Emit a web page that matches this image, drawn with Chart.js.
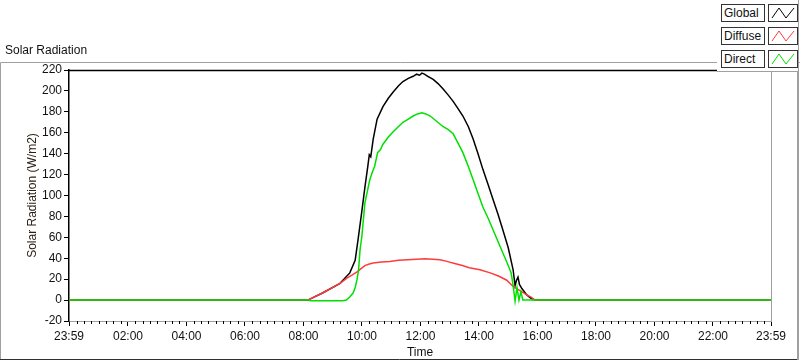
<!DOCTYPE html>
<html>
<head>
<meta charset="utf-8">
<title>Solar Radiation</title>
<script src="https://cdn.jsdelivr.net/npm/chart.js@4/dist/chart.umd.min.js"></script>
<style>
    html, body { margin: 0; padding: 0; background: #fff; }
    #wrap { position: relative; width: 800px; height: 361px; }
    #legend {
        position: absolute; left: 717px; top: 0; width: 81px; height: 71px;
        background: #fff; border-right: 1px solid #a0a0a0; border-bottom: 1px solid #a0a0a0;
        font: 12px "Liberation Sans", Arial, sans-serif; color: #111;
    }
    .item { position: absolute; left: 4px; width: 77px; height: 17px; }
    .lbl {
        position: absolute; left: 0; top: 0; width: 40px; height: 16px;
        border: 1px solid #333; line-height: 16px; padding-left: 2px; background: #fff;
    }
    .sw {
        position: absolute; left: 47px; top: 0; width: 28px; height: 16px;
        border: 1px solid #333; background: #fff;
    }
    .sw svg { display: block; }
</style>
</head>
<body>
<div id="wrap">
    <canvas id="chart" width="800" height="361"></canvas>
    <div id="legend"></div>
</div>
<script>
// x values are minutes after midnight (-1 = 23:59 of the previous day)
const tickTimes = [-1, 120, 240, 360, 480, 600, 720, 840, 960, 1080, 1200, 1320, 1439];
const tickLabels = ['23:59', '02:00', '04:00', '06:00', '08:00', '10:00', '12:00', '14:00', '16:00', '18:00', '20:00', '22:00', '23:59'];

const globalTimes = [-1, 489, 520, 555, 575, 586, 592, 600, 606, 612, 615, 618, 623, 631, 643, 654, 664, 675, 684, 695, 705, 712, 718, 723, 728, 735, 746, 756, 766, 777, 787, 797, 807, 818, 828, 838, 848, 859, 869, 879, 889, 900, 910, 914, 917, 920, 923, 928, 938, 946, 955, 1439];
const globalValues = [0, 0, 7, 16, 26, 38, 58, 86, 108, 128, 139, 137, 154, 173, 185, 193, 199, 205, 209, 212, 214, 216, 215, 217, 216, 214, 211, 207, 202, 196, 190, 183, 176, 166, 154, 140, 125, 110, 96, 82, 67, 50, 29, 14, 19, 22, 15, 11, 5, 2, 0, 0];

const diffuseTimes = [-1, 489, 520, 555, 569, 580, 590, 598, 606, 615, 623, 640, 657, 675, 694, 712, 729, 745, 760, 774, 790, 806, 820, 842, 863, 880, 897, 910, 924, 938, 946, 955, 1439];
const diffuseValues = [0, 0, 7, 16, 21, 24, 27, 30, 33, 34.5, 35.5, 36.5, 37, 38, 38.5, 39, 39.5, 39, 38.5, 37, 35, 33, 31, 29, 26, 23, 19, 13, 9, 5, 3, 0, 0];

const directTimes = [-1, 489, 495, 560, 568, 575, 582, 586, 590, 593, 596, 600, 606, 611, 616, 621, 626, 632, 638, 643, 654, 664, 675, 684, 695, 705, 714, 723, 731, 740, 753, 766, 777, 787, 797, 807, 818, 828, 838, 848, 859, 869, 879, 889, 900, 906, 910, 914, 918, 922, 926, 930, 934, 955, 1439];
const directValues = [0, 0, -0.7, -0.7, 0, 3, 7, 12, 20, 29, 48, 62, 93, 104, 115, 122, 128, 141, 144, 149, 156, 161, 166, 170, 173, 176, 178, 179, 178, 176, 171, 166, 163, 159, 150, 141, 128, 115, 102, 89, 78, 67, 56, 45, 33, 26, 14, -1, 12, 0, 8, 0, 0, 0, 0];

const toPoints = (xs, ys) => xs.map((x, i) => ({ x, y: ys[i] }));
const FONT = '"Liberation Sans", Arial, sans-serif';

// outer panel frame, plot top/right edges and minor time ticks
const framePlugin = {
    id: 'frame',
    beforeDraw(chart) {
        const ctx = chart.ctx;
        ctx.save();
        ctx.lineWidth = 1;
        ctx.strokeStyle = '#a0a0a0';
        ctx.beginPath();
        ctx.moveTo(0.5, 360);
        ctx.lineTo(0.5, 62.5);
        ctx.lineTo(800, 62.5);
        ctx.stroke();
        ctx.strokeStyle = '#303030';
        ctx.beginPath();
        ctx.moveTo(0, 359.5);
        ctx.lineTo(798.5, 359.5);
        ctx.stroke();
        ctx.strokeStyle = '#a0a0a0';
        ctx.lineWidth = 2;
        ctx.beginPath();
        ctx.moveTo(798, 360);
        ctx.lineTo(798, 62);
        ctx.stroke();
        ctx.restore();
    },
    afterDraw(chart) {
        const { ctx, chartArea: a } = chart;
        const xs = chart.scales.x;
        ctx.save();
        ctx.strokeStyle = '#000';
        ctx.lineWidth = 1.5;
        ctx.beginPath();
        ctx.moveTo(a.left - 1, a.top + 0.5);
        ctx.lineTo(a.right, a.top + 0.5);
        ctx.stroke();
        ctx.strokeStyle = '#a0a0a0';
        ctx.lineWidth = 1;
        ctx.beginPath();
        ctx.moveTo(a.right + 0.5, a.top);
        ctx.lineTo(a.right + 0.5, a.bottom);
        ctx.stroke();
        ctx.strokeStyle = '#000';
        ctx.beginPath();
        for (let t = 15; t < 1439; t += 15) {
            if (t % 120 === 0) continue;
            const px = Math.round(xs.getPixelForValue(t)) + 0.5;
            ctx.moveTo(px, a.bottom);
            ctx.lineTo(px, a.bottom + 3);
        }
        ctx.stroke();
        ctx.restore();
    }
};

const chart = new Chart(document.getElementById('chart'), {
    type: 'line',
    data: {
        datasets: [
            { label: 'Global', data: toPoints(globalTimes, globalValues), borderColor: '#000000', order: 2 },
            { label: 'Diffuse', data: toPoints(diffuseTimes, diffuseValues), borderColor: '#ff3b3b', order: 1 },
            { label: 'Direct', data: toPoints(directTimes, directValues), borderColor: '#00e000', order: 0 }
        ]
    },
    options: {
        responsive: false,
        animation: false,
        elements: {
            line: { borderWidth: 1.5, tension: 0 },
            point: { radius: 0 }
        },
        layout: { padding: { left: 5, right: 29, top: 1, bottom: 0 } },
        plugins: {
            legend: { display: false },
            tooltip: { enabled: false },
            title: {
                display: true,
                text: 'Solar Radiation',
                align: 'start',
                color: '#111',
                font: { family: FONT, size: 12, weight: 'normal' },
                padding: { top: 42, bottom: 12.6 }
            }
        },
        scales: {
            x: {
                type: 'linear',
                min: -1,
                max: 1439,
                afterBuildTicks: (scale) => {
                    scale.ticks = tickTimes.map(v => ({ value: v }));
                },
                afterFit: (scale) => { scale.height = 40; },
                ticks: {
                    autoSkip: false,
                    maxRotation: 0,
                    padding: 3,
                    color: '#111',
                    font: { family: FONT, size: 12 },
                    callback: (value, index) => tickLabels[index]
                },
                grid: { drawOnChartArea: false, tickLength: 5, color: '#000' },
                border: { color: '#a0a0a0', width: 1 },
                title: {
                    display: true,
                    text: 'Time',
                    color: '#111',
                    font: { family: FONT, size: 12 },
                    padding: { top: 0, bottom: 1 }
                }
            },
            y: {
                min: -20,
                max: 220,
                afterFit: (scale) => { scale.width = 64; },
                ticks: {
                    stepSize: 20,
                    padding: 2,
                    color: '#111',
                    font: { family: FONT, size: 12 }
                },
                grid: { drawOnChartArea: false, tickLength: 5, color: '#000' },
                border: { color: '#000', width: 1.5 },
                title: {
                    display: true,
                    text: 'Solar Radiation (W/m2)',
                    color: '#2a2018',
                    font: { family: FONT, size: 12 },
                    padding: { top: 20, bottom: 0 }
                }
            }
        }
    },
    plugins: [framePlugin]
});

// html legend built from the datasets
const legendEl = document.getElementById('legend');
legendEl.innerHTML = chart.data.datasets.map((ds, i) => `
    <div class="item" style="top:${4 + i * 23}px">
        <div class="lbl">${ds.label}</div>
        <div class="sw">
            <svg width="28" height="16" viewBox="0 0 28 16">
                <polyline points="3,13 10,3 17,13 25,3" fill="none" stroke="${ds.borderColor}" stroke-width="1"/>
            </svg>
        </div>
    </div>
`).join('');
</script>
</body>
</html>
